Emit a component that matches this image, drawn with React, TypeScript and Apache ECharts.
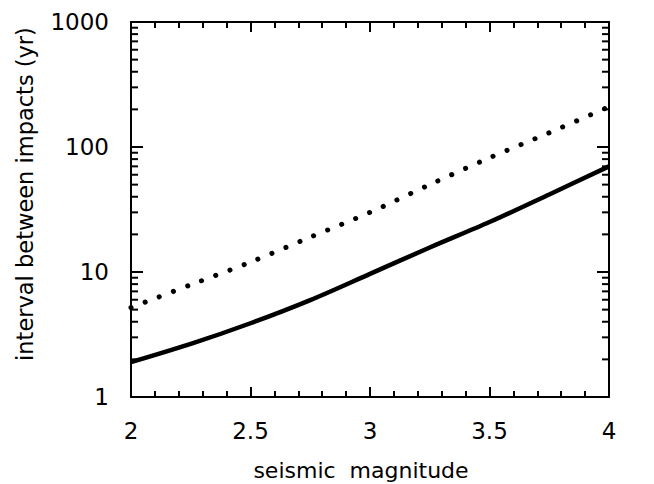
import React, { useEffect, useRef } from "react";
import * as echarts from "echarts";

const magnitudes = [2.0, 2.25, 2.5, 2.75, 3.0, 3.25, 3.5, 3.75, 4.0];
const solidInterval = [1.9, 2.66, 3.89, 5.96, 9.66, 15.7, 25.1, 41.7, 70];
const dottedInterval = [5.2, 7.9, 12, 19, 30, 50, 82, 130, 210];
const minorYTicks = [2, 3, 4, 5, 6, 7, 8, 9, 20, 30, 40, 50, 60, 70, 80, 90, 200, 300, 400, 500, 600, 700, 800, 900];
const yTitle = "interval between impacts (yr)";
const xTitle = "seismic  magnitude";

const FONT = "DejaVu Sans";

export default function App() {
  const ref = useRef<HTMLDivElement>(null);
  useEffect(() => {
    if (!ref.current) return;
    const chart = echarts.init(ref.current, undefined, { renderer: "svg" });
    const axisLine = { show: true, lineStyle: { color: "#000", width: 2 } };
    const xCommon = {
      type: "value",
      min: 2,
      max: 4,
      interval: 0.5,
      axisLine,
      axisTick: { show: true, inside: true, length: 10, lineStyle: { color: "#000", width: 2 } },
      minorTick: { show: true, splitNumber: 5, length: 6, lineStyle: { color: "#000", width: 2 } },
      splitLine: { show: false },
    };
    const yCommon = {
      type: "log",
      logBase: 10,
      min: 1,
      max: 1000,
      splitNumber: 3,
      axisLine,
      axisTick: { show: true, inside: true, length: 12, lineStyle: { color: "#000", width: 2 } },
      splitLine: { show: false },
    };
    chart.setOption({
      animation: false,
      backgroundColor: "#fff",
      grid: { left: 131, right: 45, top: 22, bottom: 87, containLabel: false },
      xAxis: [
        {
          ...xCommon,
          position: "bottom",
          axisLabel: {
            show: true,
            fontFamily: FONT,
            fontSize: 23,
            color: "#000",
            margin: 22,
            formatter: (v: number) => String(v),
          },
        },
        { ...xCommon, position: "top", axisLabel: { show: false } },
      ],
      yAxis: [
        {
          ...yCommon,
          position: "left",
          axisLabel: {
            show: true,
            fontFamily: FONT,
            fontSize: 23,
            color: "#000",
            margin: 22,
            formatter: (v: number) => String(Math.round(v)),
          },
        },
        { ...yCommon, position: "right", axisLabel: { show: false } },
      ],
      graphic: [
        {
          type: "text",
          x: 25,
          y: 194,
          rotation: Math.PI / 2,
          style: {
            text: yTitle,
            fontFamily: FONT,
            fontSize: 22.5,
            fill: "#000",
            textAlign: "center",
            textVerticalAlign: "middle",
          },
        },
        {
          type: "text",
          x: 361,
          y: 470,
          style: {
            text: xTitle,
            fontFamily: FONT,
            fontSize: 22,
            fill: "#000",
            textAlign: "center",
            textVerticalAlign: "middle",
          },
        },
      ],
      series: [
        {
          type: "line",
          data: magnitudes.map((m, i) => [m, solidInterval[i]]),
          smooth: 0.3,
          showSymbol: false,
          lineStyle: { color: "#000", width: 4.5 },
          xAxisIndex: 0,
          yAxisIndex: 0,
        },
        {
          type: "line",
          data: magnitudes.map((m, i) => [m, dottedInterval[i]]),
          smooth: 0.3,
          showSymbol: false,
          lineStyle: { color: "#000", width: 5, type: [0.1, 15], cap: "round" },
          xAxisIndex: 0,
          yAxisIndex: 0,
        },
        {
          type: "custom",
          xAxisIndex: 0,
          yAxisIndex: 0,
          clip: false,
          data: minorYTicks.map((v) => [2, v]),
          renderItem: (params: any, api: any) => {
            const y = api.coord([2, api.value(1)])[1];
            const cs = params.coordSys;
            return {
              type: "group",
              children: [
                {
                  type: "line",
                  shape: { x1: cs.x, y1: y, x2: cs.x + 7, y2: y },
                  style: { stroke: "#000", lineWidth: 2 },
                },
                {
                  type: "line",
                  shape: { x1: cs.x + cs.width - 7, y1: y, x2: cs.x + cs.width, y2: y },
                  style: { stroke: "#000", lineWidth: 2 },
                },
              ],
            };
          },
        },
      ],
    });
    return () => chart.dispose();
  }, []);
  return <div ref={ref} style={{ width: 654, height: 484, position: "absolute", left: 0, top: 0 }} />;
}
